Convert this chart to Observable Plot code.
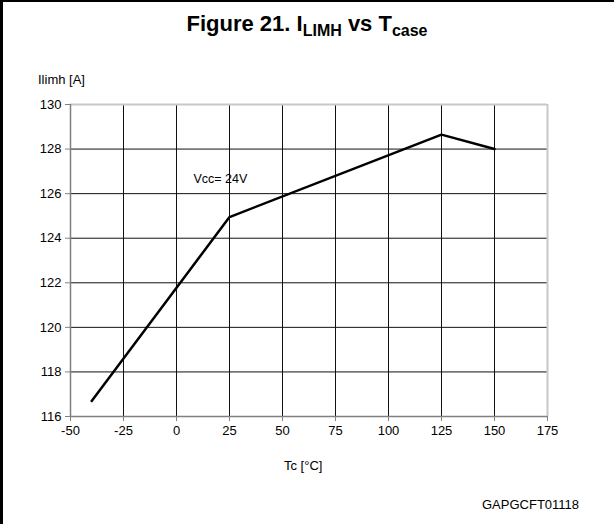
<!DOCTYPE html>
<html><head><meta charset="utf-8">
<script src="https://cdn.jsdelivr.net/npm/d3@7"></script>
<script src="https://cdn.jsdelivr.net/npm/@observablehq/plot@0.6"></script>
<style>
html,body{margin:0;padding:0;background:#fff;font-family:"Liberation Sans",Arial,sans-serif;}
#frame{position:relative;width:614px;height:524px;overflow:hidden;background:#fff;}
#topline{position:absolute;left:0;top:0;width:614px;height:2px;background:#000;z-index:3;}
#leftline{position:absolute;left:0;top:0;width:3px;height:524px;background:#000;z-index:3;}
#title{position:absolute;left:0;top:11px;width:614px;text-align:center;font-weight:bold;font-size:22px;color:#000;z-index:2;}
#title sub{font-size:16px;vertical-align:-5px;}
.lbl{position:absolute;font-size:13px;color:#000;white-space:nowrap;z-index:2;}
#chart{position:absolute;left:0;top:50px;z-index:1;}
</style></head><body>
<div id="frame">
<div id="chart"></div>
<div id="topline"></div>
<div id="leftline"></div>
<div id="title">Figure 21. I<sub>LIMH</sub> vs T<sub>case</sub></div>
<div class="lbl" style="left:38px;top:72px;">Ilimh [A]</div>
<div class="lbl" style="left:284px;top:458px;">Tc [°C]</div>
<div class="lbl" style="left:482px;top:497px;">GAPGCFT01118</div>
</div>
<script>
const tc = [-40, 25, 125, 150];
const ilimh = [116.7, 124.95, 128.65, 128.0];
const xTicks = [-50, -25, 0, 25, 50, 75, 100, 125, 150, 175];
const yTicks = [116, 118, 120, 122, 124, 126, 128, 130];
const noteText = ["Vcc= 24V"];
const noteX = [8];
const noteY = [126.65];

const data = tc.map((t, i) => ({t, v: ilimh[i]}));
const notes = noteText.map((s, i) => ({s, x: noteX[i], y: noteY[i]}));
const innerX = xTicks.slice(1, -1);
const innerY = yTicks.slice(1, -1);

const plot = Plot.plot({
  width: 614,
  height: 473,
  marginTop: 54,
  marginBottom: 107,
  marginLeft: 70,
  marginRight: 67,
  x: {domain: [-50, 175]},
  y: {domain: [116, 130]},
  style: {fontFamily: "'Liberation Sans', Arial, sans-serif", fontSize: "13px", color: "#000", background: "transparent"},
  marks: [
    Plot.ruleX(innerX, {stroke: "#111", strokeWidth: 1, strokeOpacity: 1}),
    Plot.ruleY(innerY, {stroke: "#111", strokeWidth: 1, strokeOpacity: 1}),
    Plot.ruleY([130], {stroke: "#c8c8c8", strokeWidth: 2}),
    Plot.ruleX([175], {stroke: "#c8c8c8", strokeWidth: 2}),
    Plot.ruleX([-50], {stroke: "#808080", strokeWidth: 1.5}),
    Plot.ruleY([116], {stroke: "#808080", strokeWidth: 1.5}),
    Plot.axisX({ticks: xTicks, tickSize: 5, tickPadding: 4, label: null, stroke: "#808080", fontSize: 13, tickFormat: d => String(d)}),
    Plot.axisY({ticks: yTicks, tickSize: 5, tickPadding: 4, label: null, stroke: "#808080", fontSize: 13, tickFormat: d => String(d)}),
    Plot.line(data, {x: "t", y: "v", stroke: "#000", strokeWidth: 2.5}),
    Plot.text(notes, {x: "x", y: "y", text: "s", textAnchor: "start", fontSize: 12.5, fill: "#000"})
  ]
});
document.getElementById("chart").appendChild(plot);
</script>
</body></html>
